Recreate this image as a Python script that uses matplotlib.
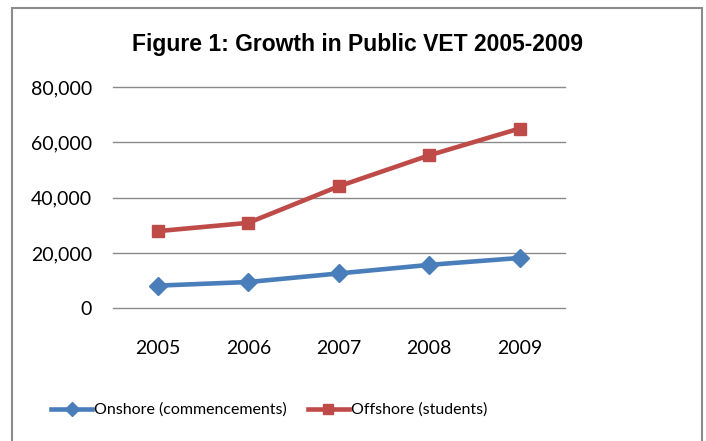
import matplotlib
matplotlib.use('Agg')
import matplotlib.pyplot as plt
from matplotlib.patches import Rectangle

# Данные
years = ['2005', '2006', '2007', '2008', '2009']
onshore = [8200, 9500, 12600, 15700, 18200]
offshore = [27900, 30900, 44100, 55300, 65000]
y_ticks = [0, 20000, 40000, 60000, 80000]

blue = '#4a7ebb'
red = '#be4b48'

fig = plt.figure(figsize=(7.06, 4.41), dpi=100)
ax = fig.add_axes([0.1596, 0.3009, 0.6404, 0.5018])

# рамка вокруг всего графика
fig.patches.append(Rectangle((12 / 706, -0.05), 690 / 706, 1.05 - 8 / 441,
                             transform=fig.transFigure, fill=False,
                             edgecolor='#8c8c8c', lw=1.5))

x = list(range(len(years)))
ax.plot(x, onshore, color=blue, lw=3.3, marker='D', markersize=9,
        label='Onshore (commencements)')
ax.plot(x, offshore, color=red, lw=3.3, marker='s', markersize=9,
        label='Offshore (students)')

ax.set_xlim(-0.5, 4.5)
ax.set_ylim(0, 80000)
ax.set_yticks(y_ticks)
ax.set_yticklabels([f'{v:,}' for v in y_ticks])
ax.set_xticks(x)
ax.set_xticklabels(years)
ax.yaxis.grid(True, color='#8a8a8a', lw=1)
for gl in ax.get_ygridlines():
    gl.set_clip_on(False)
ax.set_axisbelow(True)
for s in ax.spines.values():
    s.set_visible(False)
ax.tick_params(axis='both', length=0, labelsize=14)
ax.tick_params(axis='y', pad=15)
ax.tick_params(axis='x', pad=23)
for lab in ax.get_xticklabels() + ax.get_yticklabels():
    lab.set_family('Lato')

fig.text(0.506, 1 - 44 / 441, 'Figure 1: Growth in Public VET 2005-2009',
         ha='center', va='center', fontsize=16.5, fontweight='bold',
         family=['Liberation Sans Narrow', 'Liberation Sans'])

leg = fig.legend(loc='center', bbox_to_anchor=(269 / 706, 1 - 410 / 441), ncol=2,
                 frameon=False, handlelength=2.6, handletextpad=0.1,
                 columnspacing=1.3, markerscale=0.75,
                 prop={'family': 'Lato', 'size': 11.5})

fig.savefig('out.png', dpi=100)
